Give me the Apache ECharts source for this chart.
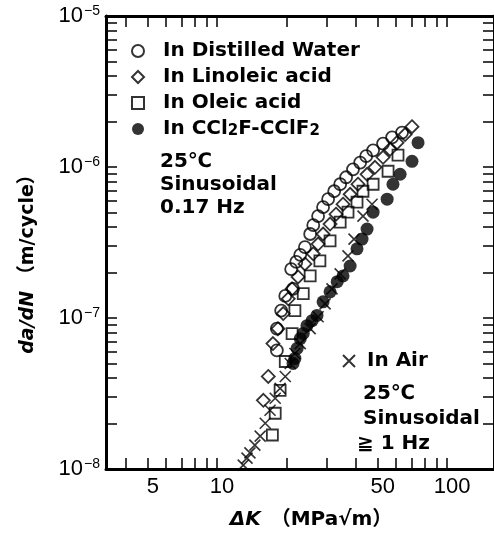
<!DOCTYPE html>
<html><head><meta charset="utf-8">
<script src="https://cdn.jsdelivr.net/npm/echarts@6/dist/echarts.min.js"></script>
<style>html,body{margin:0;padding:0;background:#fff}#c{width:494px;height:535px}</style>
</head><body><div id="c"></div>
<script>
// Tick positions and labels
const xTickValues = [4,5,6,7,8,9,10,20,30,40,50,60,70,80,90,100];
const xLabelValues = [5,10,50,100];
const yTickValues = [1e-8,2e-8,3e-8,4e-8,5e-8,6e-8,7e-8,8e-8,9e-8,
  1e-7,2e-7,3e-7,4e-7,5e-7,6e-7,7e-7,8e-7,9e-7,
  1e-6,2e-6,3e-6,4e-6,5e-6,6e-6,7e-6,8e-6,9e-6,1e-5];
const yLabelValues = [1e-8,1e-7,1e-6,1e-5];

// Series names
const seriesNames = ['In Distilled Water','In Linoleic acid','In Oleic acid','In CCl2F-CClF2','In Air'];

// In Distilled Water (open circles)
const waterDK   = [63.7,57.7,52.7,47.7,44.5,41.9,39.0,36.4,34.3,32.3,30.4,28.9,27.5,26.2,25.4,24.1,23.0,22.1,21.0,21.4,19.8,19.0,18.2,18.2];
const waterRate = [1.69e-6,1.57e-6,1.43e-6,1.29e-6,1.18e-6,1.07e-6,9.65e-7,8.55e-7,7.69e-7,6.91e-7,6.12e-7,5.42e-7,4.73e-7,4.12e-7,3.60e-7,2.95e-7,2.62e-7,2.35e-7,2.11e-7,1.56e-7,1.40e-7,1.12e-7,8.5e-8,6.1e-8];

// In Linoleic acid (diamonds)
const linoDK   = [70.4,65.7,60.6,56.5,52.7,48.6,44.9,41.0,37.9,35.3,32.9,31.0,28.9,27.5,26.2,24.1,22.5,21.2,20.4,19.4,18.4,17.5,16.7,15.9];
const linoRate = [1.85e-6,1.64e-6,1.45e-6,1.31e-6,1.16e-6,9.95e-7,8.95e-7,7.69e-7,6.60e-7,5.67e-7,4.87e-7,4.19e-7,3.60e-7,3.09e-7,2.66e-7,2.28e-7,1.87e-7,1.56e-7,1.34e-7,1.07e-7,8.5e-8,6.77e-8,4.10e-8,2.85e-8];

// In Oleic acid (squares)
const oleicDK   = [61.2,55.4,47.7,43.1,40.6,37.1,34.3,31.0,28.0,25.4,23.7,21.8,21.2,19.8,18.8,17.9,17.4];
const oleicRate = [1.2e-6,9.37e-7,7.69e-7,6.91e-7,5.85e-7,5.02e-7,4.32e-7,3.24e-7,2.39e-7,1.90e-7,1.45e-7,1.12e-7,7.88e-8,5.15e-8,3.32e-8,2.34e-8,1.68e-8];

// In CCl2F-CClF2 (filled circles)
const freonDK   = [74.8,70.4,62.5,58.2,54.9,47.7,44.9,42.7,40.6,37.9,35.3,33.3,31.0,28.9,27.2,25.9,24.6,23.7,23.0,22.3,21.8,21.4];
const freonRate = [1.45e-6,1.09e-6,8.95e-7,7.69e-7,6.12e-7,5.02e-7,3.88e-7,3.33e-7,2.87e-7,2.21e-7,1.90e-7,1.74e-7,1.49e-7,1.28e-7,1.04e-7,9.6e-8,8.9e-8,7.9e-8,7.3e-8,6.3e-8,5.4e-8,5.0e-8];

// In Air (crosses)
const airDK   = [13.0,13.5,13.9,14.6,15.4,16.2,17.0,17.9,18.8,19.8,20.8,21.8,23.0,25.4,27.5,29.5,31.6,34.3,37.1,39.4,43.1,47.2];
const airRate = [1.06e-8,1.18e-8,1.28e-8,1.44e-8,1.65e-8,2.01e-8,2.45e-8,2.94e-8,3.42e-8,4.10e-8,5.0e-8,5.82e-8,6.77e-8,8.51e-8,1.02e-7,1.24e-7,1.56e-7,1.96e-7,2.58e-7,3.33e-7,4.73e-7,5.67e-7];

const zip = (a, b) => a.map((v, i) => [v, b[i]]);
const FONT = '"DejaVu Sans", "Noto Sans CJK JP", sans-serif';
const NUMFONT = '"Liberation Sans", Arial, sans-serif';
const CROSS = 'path://M0,0L10,10M10,0L0,10';

const chart = echarts.init(document.getElementById('c'), null, {renderer: 'canvas'});

function xAxisDef(pos, showLabel) {
  return {
    type: 'log', logBase: 10, min: 3.29, max: 160, position: pos,
    axisLine: {show: true, lineStyle: {color: '#000', width: 3}},
    axisTick: {show: true, inside: true, length: 11, customValues: xTickValues, lineStyle: {color: '#000', width: 1.5}},
    minorTick: {show: false}, splitLine: {show: false},
    axisLabel: {show: showLabel, customValues: xLabelValues, color: '#000', fontSize: 22, fontFamily: NUMFONT,
      margin: 7, padding: [0, 0, 0, 10]},
    name: showLabel ? '{i|\u0394K}   {n|\uff08MPa\u221am\uff09}' : '',
    nameLocation: 'middle', nameGap: 41,
    nameTextStyle: {padding: [0, 0, 0, 22], rich: {
      i: {fontStyle: 'italic', fontWeight: 'bold', fontSize: 20, fontFamily: FONT, color: '#000'},
      n: {fontSize: 20, fontWeight: 'bold', fontFamily: FONT, color: '#000'}
    }}
  };
}
function yAxisDef(pos, showLabel) {
  return {
    type: 'log', logBase: 10, min: 1e-8, max: 1e-5, position: pos,
    axisLine: {show: true, lineStyle: {color: '#000', width: 3}},
    axisTick: {show: true, inside: true, length: 11, customValues: yTickValues, lineStyle: {color: '#000', width: 1.5}},
    minorTick: {show: false}, splitLine: {show: false},
    axisLabel: {show: showLabel, customValues: yLabelValues, margin: 6,
      formatter: v => '{b|10}{s|\u2212' + Math.round(-Math.log10(v)) + '}',
      rich: {
        b: {fontSize: 22, fontFamily: NUMFONT, color: '#000'},
        s: {fontSize: 14, fontFamily: NUMFONT, color: '#000', verticalAlign: 'top', padding: [0, 0, 10, 1]}
      }},
    name: showLabel ? '{i|da/dN}  {n|\uff08m/cycle\uff09}' : '',
    nameLocation: 'middle', nameRotate: 90, nameGap: 68,
    nameTextStyle: {padding: [0, 34, 0, 0], rich: {
      i: {fontStyle: 'italic', fontWeight: 'bold', fontSize: 19, fontFamily: FONT, color: '#000'},
      n: {fontSize: 19, fontWeight: 'bold', fontFamily: FONT, color: '#000'}
    }}
  };
}

const openStyle = {color: 'rgba(0,0,0,0)', borderColor: '#000', borderWidth: 1.8};
const legendText = {fontSize: 20, fontWeight: 'bold', fontFamily: FONT, color: '#000', lineHeight: 20,
  rich: {sub: {fontSize: 15, fontWeight: 'bold', fontFamily: FONT, color: '#000', verticalAlign: 'bottom', lineHeight: 14}}};
const txt = (t, x, y) => ({type: 'text', left: x, top: y, style: {text: t, font: 'bold 20px ' + FONT, fill: '#000'}});

chart.setOption({
  animation: false,
  backgroundColor: '#fff',
  grid: {left: 106, top: 16, right: 0, bottom: 64, containLabel: false},
  xAxis: [xAxisDef('bottom', true), xAxisDef('top', false)],
  yAxis: [yAxisDef('left', true), yAxisDef('right', false)],
  legend: [
    {data: seriesNames.slice(0, 4), orient: 'vertical', left: 126, top: 36, itemWidth: 12, itemHeight: 12, itemGap: 6,
     selectedMode: false, textStyle: Object.assign({padding: [0, 0, 0, 14]}, legendText),
     formatter: n => n.replace(/Cl2F/, 'Cl{sub|2}F').replace(/F2$/, 'F{sub|2}')},
    {data: [seriesNames[4]], orient: 'vertical', left: 337, top: 346, itemWidth: 12, itemHeight: 12,
     selectedMode: false, textStyle: Object.assign({padding: [0, 0, 0, 7]}, legendText)}
  ],
  graphic: [
    txt('25\u2103', 160, 152),
    txt('Sinusoidal', 160, 175),
    txt('0.17 Hz', 160, 198),
    txt('25\u2103', 363, 384),
    txt('Sinusoidal', 363, 409),
    txt('\u2267 1 Hz', 357, 434)
  ],
  series: [
    {name: seriesNames[0], type: 'scatter', data: zip(waterDK, waterRate), symbol: 'circle', symbolSize: 12, itemStyle: openStyle},
    {name: seriesNames[1], type: 'scatter', data: zip(linoDK, linoRate), symbol: 'diamond', symbolSize: 13, itemStyle: openStyle},
    {name: seriesNames[2], type: 'scatter', data: zip(oleicDK, oleicRate), symbol: 'rect', symbolSize: 11, itemStyle: openStyle},
    {name: seriesNames[3], type: 'scatter', data: zip(freonDK, freonRate), symbol: 'circle', symbolSize: 13, itemStyle: {color: '#000'}},
    {name: seriesNames[4], type: 'scatter', data: zip(airDK, airRate), symbol: CROSS, symbolSize: 11,
     itemStyle: {color: 'rgba(0,0,0,0)', borderColor: '#000', borderWidth: 1.6}}
  ]
});
</script>
</body></html>
